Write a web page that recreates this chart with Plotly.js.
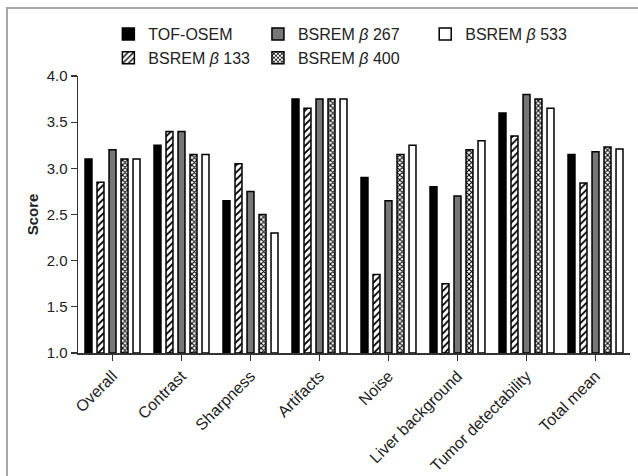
<!DOCTYPE html>
<html>
<head>
<meta charset="utf-8">
<script src="https://cdn.plot.ly/plotly-3.0.1.min.js"></script>
<style>
html,body{margin:0;padding:0;background:#fff;}
#wrap{position:relative;width:638px;height:476px;overflow:hidden;}
#frame{position:absolute;left:6px;top:7px;width:700px;height:600px;border-top:2px solid #a8a8a8;border-left:2px solid #a8a8a8;pointer-events:none;}
#chart{position:absolute;left:0;top:0;width:638px;height:476px;}
</style>
</head>
<body>
<div id="wrap"><div id="chart"></div><div id="frame"></div></div>
<script>
const categories = ["Overall","Contrast","Sharpness","Artifacts","Noise","Liver background","Tumor detectability","Total mean"];
const seriesNames = ["TOF-OSEM","BSREM <i>β</i> 133","BSREM <i>β</i> 267","BSREM <i>β</i> 400","BSREM <i>β</i> 533"];
const tofOsem  = [3.10, 3.25, 2.65, 3.75, 2.90, 2.80, 3.60, 3.15];
const bsrem133 = [2.85, 3.40, 3.05, 3.65, 1.85, 1.75, 3.35, 2.84];
const bsrem267 = [3.20, 3.40, 2.75, 3.75, 2.65, 2.70, 3.80, 3.18];
const bsrem400 = [3.10, 3.15, 2.50, 3.75, 3.15, 3.20, 3.75, 3.23];
const bsrem533 = [3.10, 3.15, 2.30, 3.75, 3.25, 3.30, 3.65, 3.21];
const yTicks = [1.0, 1.5, 2.0, 2.5, 3.0, 3.5, 4.0];

const values = [tofOsem, bsrem133, bsrem267, bsrem400, bsrem533];
const fills = ["#000000", "#ffffff", "#777777", "#ffffff", "#ffffff"];
const patterns = [
  {shape: ""},
  {shape: "/", fgcolor: "#000000", bgcolor: "#ffffff", size: 5, solidity: 0.35},
  {shape: ""},
  {shape: "x", fgcolor: "#000000", bgcolor: "#ffffff", size: 3.5, solidity: 0.5},
  {shape: ""}
];
const legendIds = ["legend", "legend", "legend2", "legend2", "legend3"];

const traces = values.map((v, i) => ({
  type: "bar",
  name: seriesNames[i],
  x: categories,
  y: v.map(d => d - 1),
  base: 1,
  legend: legendIds[i],
  marker: {color: fills[i], pattern: patterns[i], line: {color: "#000000", width: 1.5}},
  hoverinfo: "skip"
}));

const legendBase = {
  orientation: "v", xanchor: "left", y: 1.213, yanchor: "top",
  font: {size: 16, color: "#222"}, traceorder: "normal", itemwidth: 30,
  bgcolor: "rgba(0,0,0,0)", borderwidth: 0
};

const layout = {
  width: 638, height: 476,
  margin: {l: 78, r: 8, t: 76, b: 123},
  paper_bgcolor: "#ffffff", plot_bgcolor: "#ffffff",
  font: {family: "Liberation Sans, Arial, sans-serif", color: "#222", size: 15},
  barmode: "group",
  bargap: 0.13,
  bargroupgap: 0.42,
  showlegend: true,
  legend: Object.assign({}, legendBase, {x: 0.055}),
  legend2: Object.assign({}, legendBase, {x: 0.326}),
  legend3: Object.assign({}, legendBase, {x: 0.629}),
  xaxis: {
    type: "category", range: [-0.5, 7.5], showline: true, linecolor: "#333", linewidth: 1.5,
    ticks: "outside", ticklen: 6, tickcolor: "#333", tickwidth: 1.2, tickangle: -45,
    showgrid: false, zeroline: false, tickfont: {size: 16, color: "#222"}, fixedrange: true
  },
  yaxis: {
    range: [1, 4], tickvals: yTicks, ticktext: yTicks.map(t => t.toFixed(1)),
    showline: true, linecolor: "#333", linewidth: 1.5, ticks: "outside", ticklen: 6,
    tickcolor: "#333", tickwidth: 1.2, showgrid: false, zeroline: false,
    tickfont: {size: 15, color: "#222"},
    title: {text: "<b>Score</b>", font: {size: 15, color: "#222"}, standoff: 4}
  }
};

Plotly.newPlot("chart", traces, layout, {displayModeBar: false, staticPlot: true});
</script>
</body>
</html>
